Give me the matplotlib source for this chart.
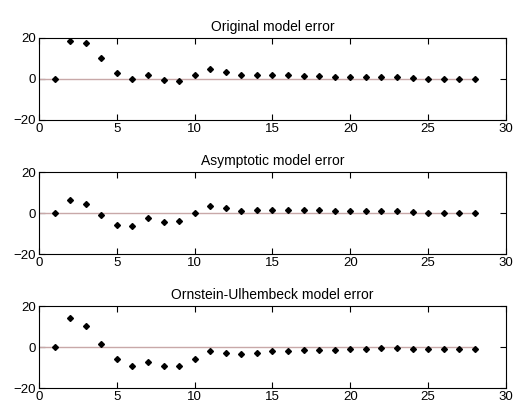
import matplotlib
matplotlib.use("Agg")
import matplotlib.pyplot as plt
import numpy as np

steps = np.arange(1, 29)

original_err = [0, 18.5, 17.5, 10, 3.1, 0, 2.1, -0.7, -1.1, 2.1,
                4.8, 3.3, 2.1, 2.1, 2.1, 2.1, 1.5, 1.5, 1, 1,
                1, 1, 1, 0.5, 0, 0, 0, 0]
asymptotic_err = [0, 6.6, 4.4, -1, -5.6, -6.1, -2.5, -4.1, -3.6, 0.2,
                  3.4, 2.5, 1.3, 1.8, 1.8, 1.8, 1.8, 1.8, 1.3, 1.3,
                  1.3, 1.3, 1.3, 0.8, 0, 0, 0, 0]
ou_err = [0, 14, 10.3, 1.7, -6, -9.2, -7.1, -9.2, -9.2, -5.6,
          -1.9, -3, -3.5, -3, -1.9, -1.9, -1.4, -1.4, -1.4, -1,
          -1, -0.5, -0.5, -1, -1, -1, -1, -1]

titles = ["Original model error", "Asymptotic model error",
          "Ornstein-Ulhembeck model error"]
series = [original_err, asymptotic_err, ou_err]

plt.rcParams['font.family'] = ['Liberation Sans', 'DejaVu Sans']

fig = plt.figure(figsize=(5.16, 4.12), dpi=100)
bottoms = [0.709, 0.383, 0.058]

for title, err, b in zip(titles, series, bottoms):
    ax = fig.add_axes([0.0756, b, 0.905, 0.199])
    ax.plot([0, 28], [0, 0], color="#c8a8a8", linewidth=1)
    ax.plot(steps, err, linestyle="none", marker="D", color="black", markersize=3)
    ax.set_xlim(0, 30)
    ax.set_ylim(-20, 20)
    ax.set_xticks([0, 5, 10, 15, 20, 25, 30])
    ax.set_yticks([-20, 0, 20])
    ax.tick_params(direction="in", top=True, right=True, labelsize=9.5, length=4, pad=2)
    ax.set_title(title, fontsize=10, pad=5)
    for s in ax.spines.values():
        s.set_linewidth(0.8)

plt.savefig("out.png", dpi=100)
